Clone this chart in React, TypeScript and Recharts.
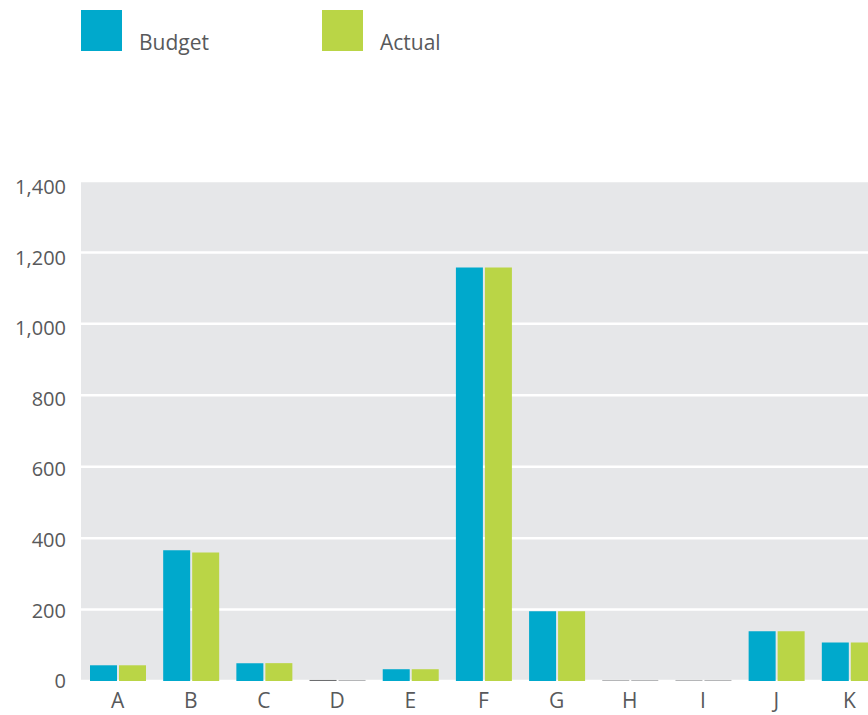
import React from 'react';
import { BarChart, Bar, XAxis, YAxis, CartesianGrid, Cell } from 'recharts';

const categories = ['A', 'B', 'C', 'D', 'E', 'F', 'G', 'H', 'I', 'J', 'K'];
const budgetValues = [44, 366, 50, 3, 33, 1158, 195, 3, 3, 139, 108];
const actualValues = [44, 360, 50, 3, 33, 1158, 195, 3, 3, 139, 108];
const yTicks = [0, 200, 400, 600, 800, 1000, 1200, 1400];
const seriesNames = ['Budget', 'Actual'];

const data = categories.map((c, i) => ({ name: c, budget: budgetValues[i], actual: actualValues[i] }));

const BLUE = '#00a9cc';
const GREEN = '#bad546';
const TEXT = '#58595b';
const FONT = '"Open Sans", sans-serif';

const budgetFill = (c: string) => (c === 'D' ? '#6d6e70' : c === 'H' || c === 'I' ? '#b5b6b8' : BLUE);
const actualFill = (c: string) => (c === 'D' || c === 'H' || c === 'I' ? '#b5b6b8' : GREEN);

const YTick = (props: any) => {
  const { x, y, payload } = props;
  return (
    <text x={x} y={y + payload.value * 0.0043} dy="0.36em" textAnchor="end" fill={TEXT} fontSize={20} fontFamily={FONT}>
      {Number(payload.value).toLocaleString('en-US')}
    </text>
  );
};

const XTick = (props: any) => {
  const { x, y, payload } = props;
  return (
    <text x={x} y={y} dy="0.71em" textAnchor="middle" fill={TEXT} fontSize={21} fontFamily={FONT}>
      {payload.value}
    </text>
  );
};

export default function App() {
  const legendColors = [BLUE, GREEN];
  return (
    <div style={{ position: 'absolute', left: 0, top: 0, width: 868, height: 715, overflow: 'hidden', background: '#fff' }}>
      {seriesNames.map((n, i) => (
        <div key={n} style={{ position: 'absolute', left: 81 + i * 241, top: 10, height: 41, display: 'flex', alignItems: 'flex-end' }}>
          <div style={{ width: 41, height: 41, background: legendColors[i] }} />
          <span style={{ marginLeft: 17, fontFamily: FONT, fontSize: 21, color: TEXT, lineHeight: '21px', position: 'relative', top: 2 }}>{n}</span>
        </div>
      ))}
      <BarChart
        width={900}
        height={715}
        data={data}
        margin={{ top: 181, right: 14, bottom: 0, left: 0 }}
        barSize={27}
        barGap={2}
      >
        <CartesianGrid vertical={false} fill="#e6e7e9" stroke="#ffffff" strokeWidth={2.5} />
        <XAxis dataKey="name" axisLine={false} tickLine={false} tickSize={0} tickMargin={12} height={34} tick={<XTick />} interval={0} />
        <YAxis domain={[0, 1400]} ticks={yTicks} axisLine={false} tickLine={false} tickSize={0} tickMargin={15} width={81} tick={<YTick />} />
        <Bar dataKey="budget" name={seriesNames[0]} fill={BLUE} isAnimationActive={false}>
          {data.map((d) => (
            <Cell key={d.name} fill={budgetFill(d.name)} />
          ))}
        </Bar>
        <Bar dataKey="actual" name={seriesNames[1]} fill={GREEN} isAnimationActive={false}>
          {data.map((d) => (
            <Cell key={d.name} fill={actualFill(d.name)} />
          ))}
        </Bar>
      </BarChart>
    </div>
  );
}
